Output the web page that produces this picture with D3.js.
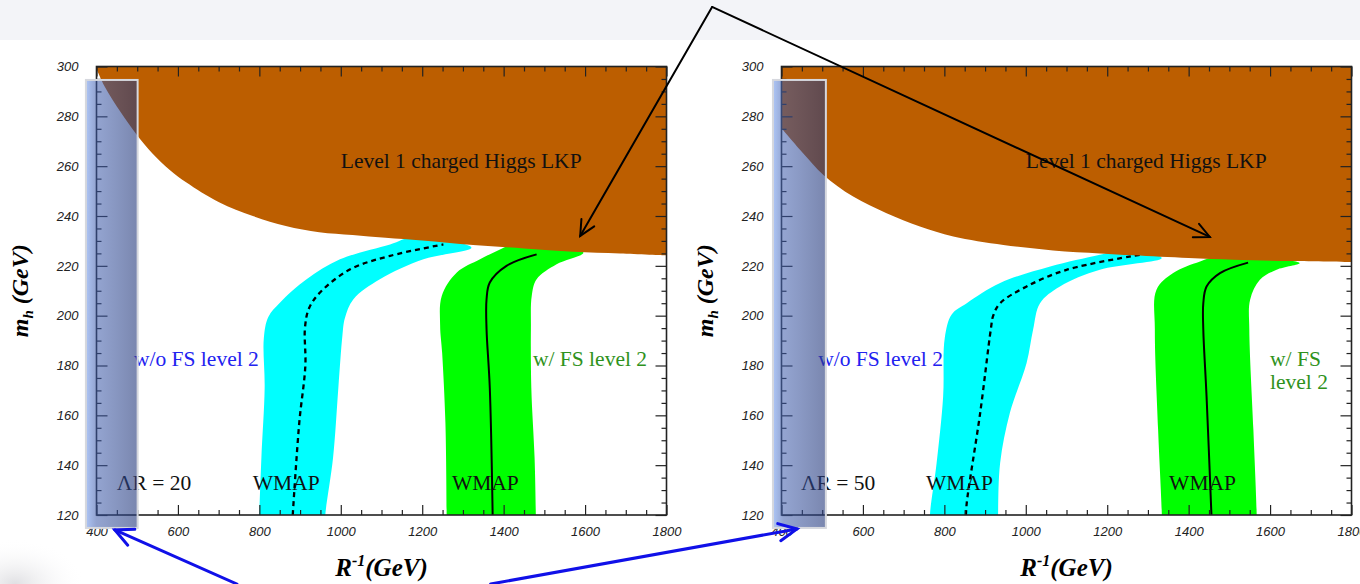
<!DOCTYPE html>
<html>
<head>
<meta charset="utf-8">
<script src="https://cdn.jsdelivr.net/npm/d3@7"></script>
<style>
  body { margin: 0; background: #fff; }
  svg { display: block; }
  .tick text { font-family: "Liberation Sans", Arial, sans-serif; font-style: italic; font-size: 13px; fill: #222; }
  .tick line { stroke: #222; stroke-width: 1.2; }
  .lbl { font-family: "Liberation Serif", "Times New Roman", serif; font-size: 21.5px; }
  .ttl { font-family: "Liberation Serif", "Times New Roman", serif; font-weight: bold; font-style: italic; }
</style>
</head>
<body>
<svg id="chart" width="1360" height="584"></svg>
<script>
// axes
const xTicks = [400, 600, 800, 1000, 1200, 1400, 1600, 1800];
const yTicks = [120, 140, 160, 180, 200, 220, 240, 260, 280, 300];

// panel ΛR = 20 : [R^-1, m_h]
const lkpEdge20 = [[400, 299], [420, 292], [460, 281.5], [497, 273], [538, 265], [580, 258.5], [620, 253.5], [701, 245.5],
  [784, 240], [865, 236], [947, 233.5], [1029, 232.4], [1110, 231.3], [1200, 230.2], [1325, 228.4],
  [1450, 227], [1571, 225.7], [1686, 225], [1800, 224.2]];
const cyanLeft20 = [[800, 116], [800, 120], [805, 143], [813, 171], [811, 191], [822, 199.5], [851, 205.3],
  [916, 214.6], [998, 222.6], [1121, 228.6], [1180, 231.6]];
const cyanRight20 = [[1321, 227.3], [1203, 222.6], [1096, 214.6], [1031, 206.6], [1010, 199], [1004, 192],
  [994, 171], [981, 143], [962, 120], [962, 116]];
const dashed20 = [[882, 120], [898, 157], [913, 180], [912, 195], [922, 203], [949, 209.3], [1023, 218.6],
  [1121, 224], [1252, 228.6]];
const greenLeft20 = [[1260, 116], [1260, 120], [1257, 157], [1249, 185], [1244, 196], [1248, 207.9],
  [1285, 217.3], [1342, 222.6], [1391, 226.6], [1440, 229.5]];
const greenRight20 = [[1596, 225.3], [1530, 220.6], [1481, 214.6], [1469, 207.9], [1467, 195], [1468, 171],
  [1476, 143], [1479, 120], [1479, 116]];
const solid20 = [[1373, 120], [1366, 171], [1358, 194.6], [1358, 206.6], [1366, 213.3], [1407, 220],
  [1481, 224.6]];

// panel ΛR = 50
const lkpEdge50 = [[400, 275.2], [453, 265.2], [503, 256.5], [576, 247.8], [658, 241.1], [740, 235.8],
  [822, 231.8], [945, 228.4], [1067, 226.2], [1182, 225], [1264, 224.2], [1400, 223.1], [1509, 222.4],
  [1650, 221.9], [1800, 221.5]];
const cyanLeft50 = [[765, 116], [765, 120.9], [781, 140.9], [797, 167.6], [801, 191], [818, 200.5], [855, 205],
  [937, 213.1], [1060, 219.7], [1182, 224.4], [1250, 227]];
const cyanRight50 = [[1334, 223.1], [1182, 218.4], [1084, 211.7], [1035, 205], [1018, 194.4], [1002, 181],
  [961, 161], [937, 140.9], [932, 120.9], [932, 116]];
const dashed50 = [[853, 120], [855, 124.9], [888, 161], [914, 194.4], [920, 200], [937, 205], [1002, 211.7],
  [1100, 218.4], [1280, 224.4]];
const greenLeft50 = [[1334, 116], [1334, 120.9], [1325, 154.3], [1317, 194.4], [1321, 210.4], [1362, 217.1],
  [1428, 221.7], [1480, 224]];
const greenRight50 = [[1673, 221.1], [1616, 218.4], [1575, 214.4], [1551, 206.4], [1549, 194.4], [1559, 154.3],
  [1567, 120.9], [1567, 116]];
const solid50 = [[1456, 120], [1444, 167.6], [1436, 194.4], [1436, 205], [1444, 211.7], [1477, 217.1],
  [1546, 221.3]];

// excluded strip (R range, m range) per panel
const strip20 = [374, 501];
const strip50 = [379, 509];
const stripM = [114.8, 294.6];

const panels = [
  { left: 96.5, lkp: lkpEdge20, cL: cyanLeft20, cR: cyanRight20, dash: dashed20, gL: greenLeft20, gR: greenRight20,
    solid: solid20, strip: strip20, lam: 'ΛR = 20', lamAt: [450, 130], wmapAt: [784, 1273],
    woAt: [492, 180], wAt: [[1472, 180, 'w/ FS level 2']] },
  { left: 781.5, lkp: lkpEdge50, cL: cyanLeft50, cR: cyanRight50, dash: dashed50, gL: greenLeft50, gR: greenRight50,
    solid: solid50, strip: strip50, lam: 'ΛR = 50', lamAt: [448, 130], wmapAt: [755, 1352],
    woAt: [490, 180], wAt: [[1600, 180, 'w/ FS'], [1600, 170.4, 'level 2']] }
];

const svg = d3.select('#chart');
const defs = svg.append('defs');

svg.append('rect').attr('width', 1360).attr('height', 40).attr('fill', '#f3f4f8');

const shade = defs.append('radialGradient').attr('id', 'shade');
shade.append('stop').attr('offset', 0).attr('stop-color', '#d8d8dc').attr('stop-opacity', 0.8);
shade.append('stop').attr('offset', 1).attr('stop-color', '#fff').attr('stop-opacity', 0);
svg.append('ellipse').attr('cx', 15).attr('cy', 584).attr('rx', 70).attr('ry', 45).attr('fill', 'url(#shade)');

const stripGrad = defs.append('linearGradient').attr('id', 'stripGrad');
stripGrad.append('stop').attr('offset', 0).attr('stop-color', 'rgb(120,160,240)').attr('stop-opacity', 0.6);
stripGrad.append('stop').attr('offset', 0.2).attr('stop-color', 'rgb(60,90,170)').attr('stop-opacity', 0.55);
stripGrad.append('stop').attr('offset', 1).attr('stop-color', 'rgb(40,60,125)').attr('stop-opacity', 0.62);

const scales = [];
const fmt = d3.format('d');

panels.forEach((p, i) => {
  const x = d3.scaleLinear().domain([400, 1800]).range([p.left, p.left + 570]);
  const y = d3.scaleLinear().domain([120, 300]).range([515, 66.5]);
  scales.push({ x, y });

  defs.append('clipPath').attr('id', 'clip' + i).append('rect')
    .attr('x', x(400)).attr('y', y(300))
    .attr('width', x(1800) - x(400)).attr('height', y(120) - y(300));

  const plot = svg.append('g').attr('clip-path', `url(#clip${i})`);
  const line = d3.line().x(d => x(d[0])).y(d => y(d[1])).curve(d3.curveCatmullRom.alpha(0.5));
  const band = (l, r) => line(l.concat(r)) + 'Z';

  plot.append('path').attr('d', band(p.cL, p.cR)).attr('fill', '#00ffff');
  plot.append('path').attr('d', band(p.gL, p.gR)).attr('fill', '#00ff00');
  plot.append('path').attr('d', line(p.dash)).attr('fill', 'none')
    .attr('stroke', '#000').attr('stroke-width', 2.3).attr('stroke-dasharray', '5,4');
  plot.append('path').attr('d', line(p.solid)).attr('fill', 'none')
    .attr('stroke', '#000').attr('stroke-width', 2);

  // LKP excluded region
  plot.append('path')
    .attr('d', line(p.lkp) + `L${x(1800)},${y(300)}L${x(400)},${y(300)}Z`)
    .attr('fill', '#bc5e00');

  // axes
  const minorX = d3.range(450, 1800, 50).filter(v => v % 200 !== 0);
  const minorY = d3.range(125, 300, 5).filter(v => v % 20 !== 0);
  const styleAxis = sel => sel.call(s => s.select('.domain').remove());

  svg.append('g').attr('transform', `translate(0,${y(120)})`)
    .call(d3.axisBottom(x).tickValues(xTicks).tickFormat(fmt).tickSizeInner(-10).tickSizeOuter(0).tickPadding(12))
    .call(styleAxis);
  svg.append('g').attr('transform', `translate(0,${y(120)})`)
    .call(d3.axisBottom(x).tickValues(minorX).tickSize(-5).tickFormat('')).call(styleAxis);
  svg.append('g').attr('transform', `translate(0,${y(300)})`)
    .call(d3.axisTop(x).tickValues(xTicks).tickSize(-10).tickFormat('')).call(styleAxis);
  svg.append('g').attr('transform', `translate(0,${y(300)})`)
    .call(d3.axisTop(x).tickValues(minorX).tickSize(-5).tickFormat('')).call(styleAxis);
  svg.append('g').attr('transform', `translate(${x(400)},0)`)
    .call(d3.axisLeft(y).tickValues(yTicks).tickFormat(fmt).tickSizeInner(-11).tickSizeOuter(0).tickPadding(18))
    .call(styleAxis);
  svg.append('g').attr('transform', `translate(${x(400)},0)`)
    .call(d3.axisLeft(y).tickValues(minorY).tickSize(-5).tickFormat('')).call(styleAxis);
  svg.append('g').attr('transform', `translate(${x(1800)},0)`)
    .call(d3.axisRight(y).tickValues(yTicks).tickSize(-11).tickFormat('')).call(styleAxis);
  svg.append('g').attr('transform', `translate(${x(1800)},0)`)
    .call(d3.axisRight(y).tickValues(minorY).tickSize(-5).tickFormat('')).call(styleAxis);

  svg.append('rect')
    .attr('x', x(400)).attr('y', y(300))
    .attr('width', x(1800) - x(400)).attr('height', y(120) - y(300))
    .attr('fill', 'none').attr('stroke', '#222').attr('stroke-width', 1.6);

  // labels
  svg.append('text').attr('class', 'lbl').attr('x', x(1000)).attr('y', y(259.3))
    .attr('fill', '#111').text('Level 1 charged Higgs LKP');
  svg.append('text').attr('class', 'lbl').attr('x', x(p.woAt[0])).attr('y', y(p.woAt[1]))
    .attr('fill', '#2222f0').text('w/o FS level 2');
  p.wAt.forEach(w => {
    svg.append('text').attr('class', 'lbl').attr('x', x(w[0])).attr('y', y(w[1]))
      .attr('fill', '#2f921c').text(w[2]);
  });
  svg.append('text').attr('class', 'lbl').attr('x', x(p.lamAt[0])).attr('y', y(p.lamAt[1]))
    .attr('fill', '#111').text(p.lam);
  p.wmapAt.forEach(r => {
    svg.append('text').attr('class', 'lbl').attr('x', x(r)).attr('y', y(130))
      .attr('fill', '#111').text('WMAP');
  });

  // axis titles
  const yt = svg.append('text').attr('class', 'ttl').attr('font-size', 24)
    .attr('text-anchor', 'middle')
    .attr('transform', `translate(${p.left - 69},${(y(120) + y(300)) / 2}) rotate(-90)`);
  yt.append('tspan').text('m');
  yt.append('tspan').attr('font-size', 15).attr('dy', 5).text('h');
  yt.append('tspan').attr('dy', -5).text(' (GeV)');

  const xt = svg.append('text').attr('class', 'ttl').attr('font-size', 25)
    .attr('text-anchor', 'middle')
    .attr('x', (x(400) + x(1800)) / 2).attr('y', 576);
  xt.append('tspan').text('R');
  xt.append('tspan').attr('font-size', 16).attr('dy', -10).text('-1');
  xt.append('tspan').attr('dy', 10).text('(GeV)');

  // excluded strip
  svg.append('rect')
    .attr('x', x(p.strip[0])).attr('y', y(stripM[1]))
    .attr('width', x(p.strip[1]) - x(p.strip[0])).attr('height', y(stripM[0]) - y(stripM[1]))
    .attr('fill', 'url(#stripGrad)')
    .attr('stroke', '#d6d8de').attr('stroke-width', 2);
});

// callout arrows: [panel of start, start point, panel of tip, tip point]
const blackCallouts = [[0, [1912, 323.9], 0, [1588, 232]], [0, [1912, 323.9], 1, [1452, 231.6]]];
const blueCallouts = [[0, [745, 92.3], 0, [445, 114]], [0, [1368, 92.3], 1, [438, 114.4]]];

function arrow(c, color, width, head) {
  const s = scales[c[0]], t = scales[c[2]];
  const x1 = s.x(c[1][0]), y1 = s.y(c[1][1]);
  const x2 = t.x(c[3][0]), y2 = t.y(c[3][1]);
  const a = Math.atan2(y2 - y1, x2 - x1);
  const g = svg.append('g').attr('stroke', color).attr('stroke-width', width)
    .attr('fill', 'none').attr('stroke-linecap', 'round');
  g.append('line').attr('x1', x1).attr('y1', y1).attr('x2', x2).attr('y2', y2);
  const wing = d => [x2 - head * Math.cos(a + d), y2 - head * Math.sin(a + d)];
  g.append('polyline').attr('points', [wing(0.45), [x2, y2], wing(-0.45)].map(q => q.join(',')).join(' '));
}

blackCallouts.forEach(c => arrow(c, '#000', 2, 17));
blueCallouts.forEach(c => arrow(c, '#1010e8', 3, 20));
</script>
</body>
</html>
